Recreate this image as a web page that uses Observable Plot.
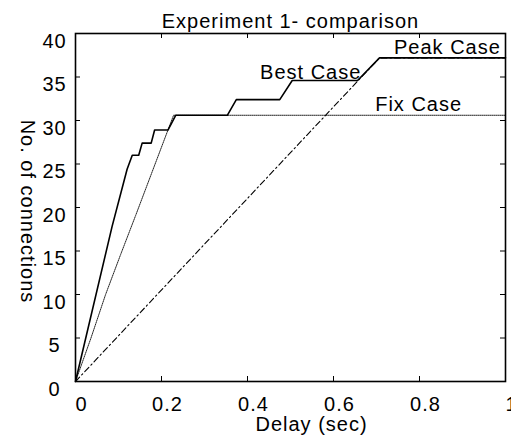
<!DOCTYPE html>
<html>
<head>
<meta charset="utf-8">
<script src="https://cdn.jsdelivr.net/npm/d3@7"></script>
<script src="https://cdn.jsdelivr.net/npm/@observablehq/plot@0.6"></script>
<style>
  html, body { margin: 0; padding: 0; background: #fff; }
  svg { display: block; font-family: "Liberation Sans", Arial, sans-serif; }
  svg text { letter-spacing: 1px; }
</style>
</head>
<body>
<div id="chart"></div>
<script>
// Delay (sec) vs number of connections for the three cases
const bestDelay = [0, 0.085, 0.120, 0.132, 0.147, 0.155, 0.176, 0.184, 0.215, 0.233, 0.353, 0.374, 0.475, 0.504, 0.656, 0.707, 1];
const bestConn  = [0, 17.8, 24.4, 26.0, 26.0, 27.4, 27.4, 28.9, 28.9, 30.6, 30.6, 32.4, 32.4, 34.6, 34.6, 37.2, 37.2];

const fixDelay = [0, 0.036, 0.070, 0.105, 0.140, 0.228, 1];
const fixConn  = [0, 5.0, 10.0, 14.6, 19.1, 30.6, 30.6];

const peakDelay = [0, 0.707, 1];
const peakConn  = [0, 37.2, 37.2];

// Axis ticks
const xTicks = [0, 0.2, 0.4, 0.6, 0.8, 1];
const yTicks = [0, 5, 10, 15, 20, 25, 30, 35, 40];

// Case annotations
const caseNames = ["Peak Case", "Best Case", "Fix Case"];
const caseLabelX = [0.865, 0.547, 0.798];
const caseLabelY = [38.4, 35.5, 31.8];

const toRows = (xs, ys) => xs.map((x, i) => ({x, y: ys[i]}));
const best = toRows(bestDelay, bestConn);
const fix = toRows(fixDelay, fixConn);
const peak = toRows(peakDelay, peakConn);
const labels = caseNames.map((name, i) => ({name, x: caseLabelX[i], y: caseLabelY[i]}));

const W = 511, H = 438;
const mL = 75, mR = 6, mT = 33, mB = 57;
const plotW = W - mL - mR, plotH = H - mT - mB;
const tickLen = 5;
const fs = 20;

const chart = Plot.plot({
  width: W,
  height: H,
  marginLeft: mL,
  marginRight: mR,
  marginTop: mT,
  marginBottom: mB,
  style: {fontFamily: "'Liberation Sans', Arial, sans-serif", color: "#000", background: "#fff"},
  x: {domain: [0, 1]},
  y: {domain: [0, 40]},
  marks: [
    // inward ticks on all four sides
    Plot.tickY(yTicks, {y: d => d, insetRight: plotW - tickLen, stroke: "#000", strokeWidth: 1}),
    Plot.tickY(yTicks, {y: d => d, insetLeft: plotW - tickLen, stroke: "#000", strokeWidth: 1}),
    Plot.tickX(xTicks, {x: d => d, insetTop: plotH - tickLen, stroke: "#000", strokeWidth: 1}),
    Plot.tickX(xTicks, {x: d => d, insetBottom: plotH - tickLen, stroke: "#000", strokeWidth: 1}),
    // tick labels
    Plot.axisY(yTicks, {tickSize: 0, tickPadding: 21, textAnchor: "middle", dy: 8, fontSize: fs, label: null}),
    Plot.axisX(xTicks, {tickSize: 0, tickPadding: 15, dx: 6, fontSize: fs, label: null, tickFormat: d => String(d)}),
    // series
    Plot.line(fix, {x: "x", y: "y", stroke: "#222", strokeWidth: 1, strokeDasharray: "1,1"}),
    Plot.line(peak, {x: "x", y: "y", stroke: "#000", strokeWidth: 1.1, strokeDasharray: "6,3,1.5,3"}),
    Plot.line(best, {x: "x", y: "y", stroke: "#000", strokeWidth: 1.6}),
    // case labels
    Plot.text(labels, {x: "x", y: "y", text: "name", fontSize: fs, fill: "#000"}),
    // title and axis titles
    Plot.text(["Experiment 1- comparison"], {frameAnchor: "top", lineAnchor: "middle", dy: -12, fontSize: fs, fill: "#000"}),
    Plot.text(["Delay (sec)"], {frameAnchor: "bottom", lineAnchor: "middle", dx: 21, dy: 43, fontSize: fs, fill: "#000"}),
    Plot.text(["No. of connections"], {frameAnchor: "left", textAnchor: "middle", lineAnchor: "middle", dx: -48, dy: 4, rotate: 90, fontSize: fs, fill: "#000"}),
    Plot.frame({stroke: "#000", strokeWidth: 1.6})
  ]
});

document.getElementById("chart").appendChild(chart);
</script>
</body>
</html>
